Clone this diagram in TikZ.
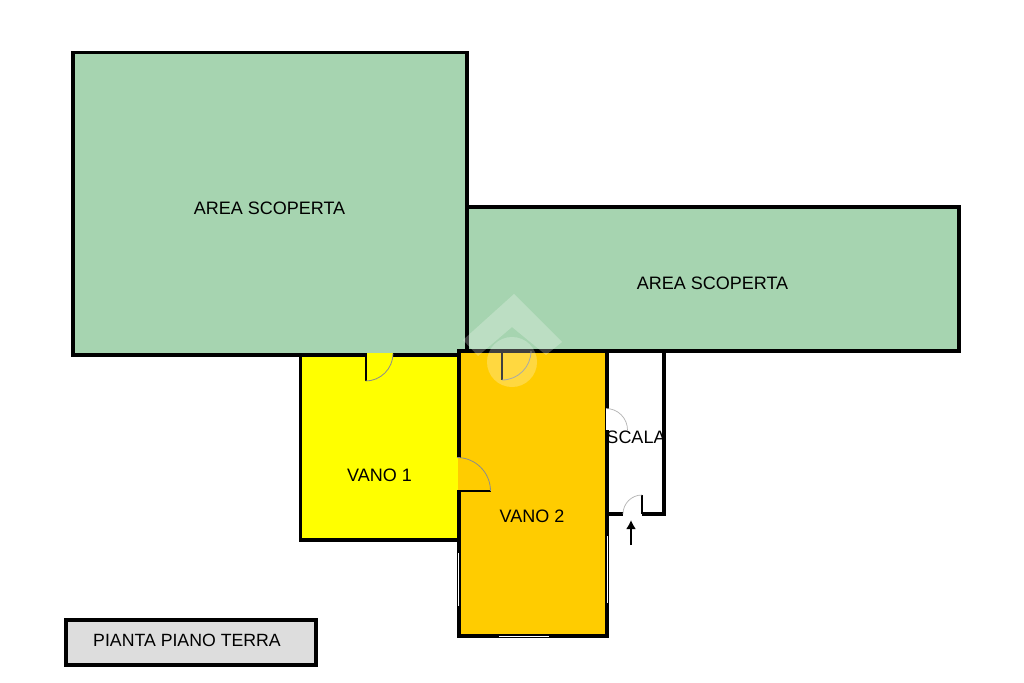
\documentclass[tikz,border=0pt]{standalone}
\usepackage{fontspec}
\usetikzlibrary{arrows.meta}
\setmainfont{Liberation Sans}
\definecolor{areag}{RGB}{166,212,176}
\definecolor{vanoa}{RGB}{255,255,0}
\definecolor{vanob}{RGB}{255,204,0}
\definecolor{cartg}{RGB}{221,221,221}
\tikzset{
  wall/.style={draw=black,line width=3.1pt,line join=miter},
  leaf/.style={draw=black,line width=2pt},
  swing/.style={draw=black!45,line width=0.8pt},
  swingw/.style={draw=black!30,line width=0.7pt},
  lbl/.style={font=\fontsize{18}{20}\selectfont,inner sep=0pt,text=black},
  glass/.style={draw=white,line width=0.9pt}
}
\begin{document}
\begin{tikzpicture}[x=1pt,y=-1pt]
\useasboundingbox (0,0) rectangle (1024,682);
\fill[white] (0,0) rectangle (1024,682);
% areas
\path[wall,fill=areag] (73,52.5) rectangle (467,355);
\path[wall,fill=areag] (467,207) rectangle (959,351);
% rooms
\path[wall,fill=vanoa] (300.5,355) rectangle (459,540);
\path[wall,fill=vanob] (459,351) rectangle (607,636);
% stair walls
\draw[wall] (664,351) -- (664,514) -- (642,514);
\draw[wall] (607,514) -- (623,514);
% door top VANO 1
\fill[vanoa] (366.5,352.5) rectangle (393,357);
\draw[leaf] (365.5,353) -- (365.5,381);
\draw[swing] (365.5,381) arc[start angle=90,end angle=0,radius=27.5];
% door top VANO 2
\draw[leaf] (502,351) -- (502,380);
\draw[swing] (502,380) arc[start angle=90,end angle=0,radius=29];
% door between rooms
\fill[vanoa] (456,458) rectangle (458.2,490);
\fill[vanob] (458.2,458) rectangle (461,490);
\draw[leaf] (457,491) -- (491,491);
\draw[swing] (457,457.5) arc[start angle=-90,end angle=0,radius=33.5];
% door to stairs
\fill[white] (605.5,408.5) rectangle (609,430);
\draw[swingw] (606,408.5) arc[start angle=-90,end angle=0,radius=21.5];
% entrance door
\draw[leaf] (642,514) -- (642,495);
\draw[swingw] (642,495) arc[start angle=-90,end angle=-180,radius=19];
% arrow
\coordinate (arrowS) at (631,545);
\coordinate (arrowE) at (631,520);
\draw[line width=1.8pt,-{Latex[length=9pt,width=10pt]}] (arrowS) -- (arrowE);
% windows
\draw[glass] (458.5,553) -- (458.5,606);
\draw[glass] (607.5,536) -- (607.5,603);
\draw[glass] (499,636) -- (549,636);
% watermark
\fill[white,opacity=.25]
  (514,294) -- (562,342) -- (546,355) -- (512,327) -- (478,356) -- (463,340) -- cycle;
\fill[white,opacity=.25] (512,362) circle[radius=25];
% labels
\node[lbl] (a1) at (269.5,208) {AREA SCOPERTA};
\node[lbl] (a2) at (712.5,283) {AREA SCOPERTA};
\node[lbl] (v1) at (379.5,475) {VANO 1};
\node[lbl] (v2) at (532,516) {VANO 2};
\node[lbl] (sc) at (636,437) {SCALA};
% title
\path[wall,fill=cartg] (66,620) rectangle (316,665);
\node[lbl,font=\fontsize{17.7}{20}\selectfont] (tt) at (187,640) {PIANTA PIANO TERRA};
\end{tikzpicture}
\end{document}
